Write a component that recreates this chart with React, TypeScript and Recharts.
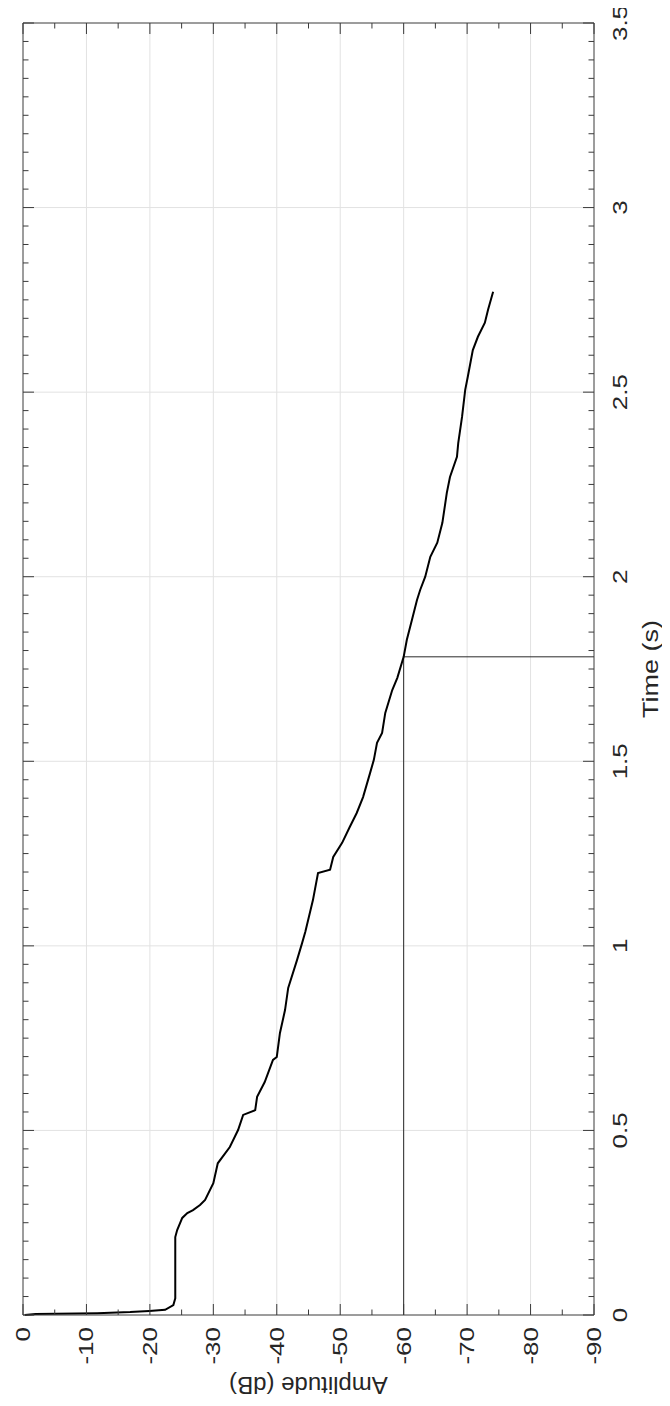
import { Line, LineChart, ReferenceLine, XAxis, YAxis } from "recharts";

// Energy decay curve: time (s) against level (dB).
const TIME_S = [
  0, 0.003, 0.005, 0.008, 0.011, 0.014, 0.027, 0.045, 0.211, 0.23, 0.263, 0.276,
  0.284, 0.298, 0.312, 0.357, 0.411, 0.455, 0.501, 0.542, 0.555, 0.591, 0.631,
  0.691, 0.699, 0.764, 0.826, 0.886, 0.962, 1.008, 1.038, 1.124, 1.197, 1.206,
  1.241, 1.279, 1.322, 1.36, 1.403, 1.468, 1.504, 1.55, 1.577, 1.631, 1.693,
  1.726, 1.783, 1.829, 1.883, 1.937, 1.964, 2.0, 2.054, 2.092, 2.146, 2.227,
  2.27, 2.325, 2.362, 2.433, 2.506, 2.541, 2.614, 2.65, 2.688, 2.723, 2.772,
];
const LEVEL_DB = [
  -0.3, -2.0, -11.7, -16.9, -19.9, -22.4, -23.7, -24.0, -24.0, -24.3, -25.1,
  -25.9, -26.8, -27.9, -28.7, -30.0, -30.7, -32.6, -33.9, -34.7, -36.6, -36.9,
  -38.1, -39.4, -40.0, -40.5, -41.3, -41.8, -43.2, -44.0, -44.5, -45.7, -46.5,
  -48.4, -48.9, -50.3, -51.5, -52.6, -53.6, -54.7, -55.3, -55.8, -56.6, -57.1,
  -58.2, -59.0, -60.0, -60.5, -61.3, -62.1, -62.6, -63.4, -64.2, -65.3, -66.1,
  -66.8, -67.3, -68.4, -68.6, -69.2, -69.7, -70.1, -70.9, -71.7, -72.8, -73.3,
  -74.1,
];

// -60 dB crossing marker
const DECAY_LEVEL = -60;
const DECAY_TIME = 1.783;

const AMP_TICKS = [0, -10, -20, -30, -40, -50, -60, -70, -80, -90];
const AMP_MINOR_TICKS = [
  0, -5, -10, -15, -20, -25, -30, -35, -40, -45, -50, -55, -60, -65, -70, -75,
  -80, -85, -90,
];
const TIME_TICKS = [0, 0.5, 1, 1.5, 2, 2.5, 3, 3.5];
const TIME_MINOR_TICKS = Array.from({ length: 71 }, (_, i) => +(i * 0.05).toFixed(2));

const data = TIME_S.map((t, i) => ({ t, amp: LEVEL_DB[i] }));

const AXIS_COLOR = "#3a3a3a";
const GRID_COLOR = "#e2e2e2";
const TEXT_COLOR = "#262626";
const FONT = "'Liberation Sans', Arial, Helvetica, sans-serif";
const MAJOR_LEN = 11;
const MINOR_LEN = 5.5;
const SQUASH = "scale(1,0.79)";

const isMajorAmp = (v: number) => v % 10 === 0;
const isMajorTime = (v: number) => Math.abs(v * 2 - Math.round(v * 2)) < 1e-6;

function BottomTick({ x, y, payload }: any) {
  const v = payload.value;
  const major = isMajorAmp(v);
  return (
    <g>
      <line x1={x} x2={x} y1={y} y2={y - (major ? MAJOR_LEN : MINOR_LEN)} stroke={AXIS_COLOR} />
      {major && (
        <text
          transform={`translate(${x},${y + 12}) rotate(-90) ${SQUASH}`}
          textAnchor="end"
          dominantBaseline="central"
          fontSize={26}
          fontFamily={FONT}
          fill={TEXT_COLOR}
        >
          {String(v)}
        </text>
      )}
    </g>
  );
}

function TopTick({ x, y, payload }: any) {
  const major = isMajorAmp(payload.value);
  return <line x1={x} x2={x} y1={y} y2={y + (major ? MAJOR_LEN : MINOR_LEN)} stroke={AXIS_COLOR} />;
}

function RightTick({ x, y, payload }: any) {
  const v = payload.value;
  const major = isMajorTime(v);
  return (
    <g>
      <line x1={x} x2={x - (major ? MAJOR_LEN : MINOR_LEN)} y1={y} y2={y} stroke={AXIS_COLOR} />
      {major && (
        <text
          transform={`translate(${x + 26},${y}) rotate(-90) ${SQUASH}`}
          textAnchor="middle"
          dominantBaseline="central"
          fontSize={26}
          fontFamily={FONT}
          fill={TEXT_COLOR}
        >
          {String(v)}
        </text>
      )}
    </g>
  );
}

function LeftTick({ x, y, payload }: any) {
  const major = isMajorTime(payload.value);
  return <line x1={x} x2={x + (major ? MAJOR_LEN : MINOR_LEN)} y1={y} y2={y} stroke={AXIS_COLOR} />;
}

function AmpTitle({ viewBox }: any) {
  const cx = viewBox.x + viewBox.width / 2;
  const cy = viewBox.y + 70;
  return (
    <text
      transform={`translate(${cx},${cy}) rotate(180)`}
      textAnchor="middle"
      dominantBaseline="central"
      fontSize={24}
      fontFamily={FONT}
      fill={TEXT_COLOR}
    >
      Amplitude (dB)
    </text>
  );
}

function TimeTitle({ viewBox }: any) {
  const cx = viewBox.x + 57;
  const cy = viewBox.y + viewBox.height / 2;
  return (
    <text
      transform={`translate(${cx},${cy}) rotate(-90) ${SQUASH}`}
      textAnchor="middle"
      dominantBaseline="central"
      fontSize={27}
      fontFamily={FONT}
      fill={TEXT_COLOR}
    >
      Time (s)
    </text>
  );
}

export default function App() {
  return (
    // pull the chart over the body margin so it can use the full page
    <div style={{ margin: "-8px 0 -8px -8px", width: 670, height: 1406 }}>
      <LineChart
        width={670}
        height={1406}
        data={data}
        layout="vertical"
        margin={{ top: 22, right: 0, bottom: 0, left: 22 }}
      >
        <XAxis
          xAxisId="amp"
          type="number"
          dataKey="amp"
          domain={[-90, 0]}
          reversed
          orientation="bottom"
          height={91}
          ticks={AMP_MINOR_TICKS}
          interval={0}
          tickSize={0}
          tickMargin={0}
          tickLine={false}
          axisLine={{ stroke: AXIS_COLOR }}
          tick={<BottomTick />}
          label={<AmpTitle />}
        />
        <XAxis
          xAxisId="ampTop"
          type="number"
          dataKey="amp"
          domain={[-90, 0]}
          reversed
          orientation="top"
          height={1}
          ticks={AMP_MINOR_TICKS}
          interval={0}
          tickSize={0}
          tickMargin={0}
          tickLine={false}
          axisLine={{ stroke: AXIS_COLOR }}
          tick={<TopTick />}
        />
        <YAxis
          yAxisId="time"
          type="number"
          dataKey="t"
          domain={[0, 3.5]}
          reversed
          orientation="right"
          width={76}
          ticks={TIME_MINOR_TICKS}
          interval={0}
          tickSize={0}
          tickMargin={0}
          tickLine={false}
          axisLine={{ stroke: AXIS_COLOR }}
          tick={<RightTick />}
          label={<TimeTitle />}
        />
        <YAxis
          yAxisId="timeLeft"
          type="number"
          dataKey="t"
          domain={[0, 3.5]}
          reversed
          orientation="left"
          width={1}
          ticks={TIME_MINOR_TICKS}
          interval={0}
          tickSize={0}
          tickMargin={0}
          tickLine={false}
          axisLine={{ stroke: AXIS_COLOR }}
          tick={<LeftTick />}
        />

        {AMP_TICKS.slice(1, -1).map((v) => (
          <ReferenceLine key={`gx${v}`} xAxisId="amp" yAxisId="time" x={v} stroke={GRID_COLOR} />
        ))}
        {TIME_TICKS.slice(1, -1).map((v) => (
          <ReferenceLine key={`gy${v}`} xAxisId="amp" yAxisId="time" y={v} stroke={GRID_COLOR} />
        ))}

        <ReferenceLine
          xAxisId="amp"
          yAxisId="time"
          segment={[
            { x: DECAY_LEVEL, y: 0 },
            { x: DECAY_LEVEL, y: DECAY_TIME },
          ]}
          stroke="#2a2a2a"
        />
        <ReferenceLine
          xAxisId="amp"
          yAxisId="time"
          segment={[
            { x: DECAY_LEVEL, y: DECAY_TIME },
            { x: -90, y: DECAY_TIME },
          ]}
          stroke="#2a2a2a"
        />

        <Line
          xAxisId="amp"
          yAxisId="time"
          dataKey="amp"
          type="linear"
          stroke="#000"
          strokeWidth={2}
          dot={false}
          isAnimationActive={false}
        />
      </LineChart>
    </div>
  );
}
